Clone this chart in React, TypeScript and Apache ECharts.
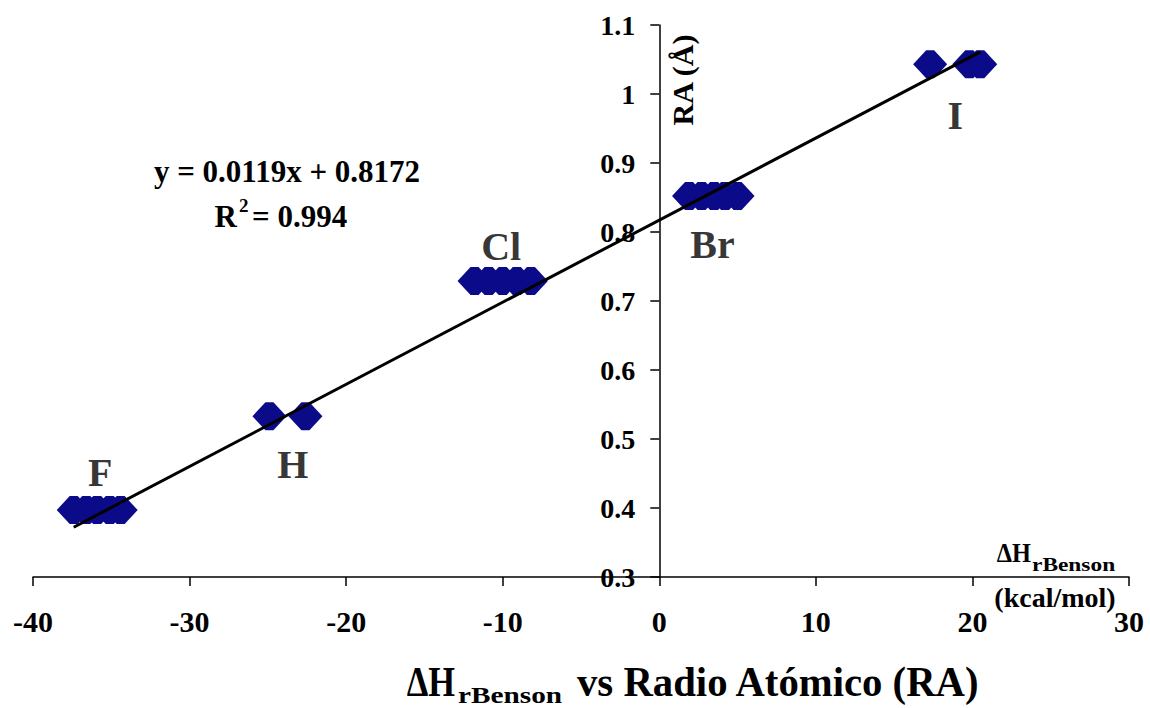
import React, { useEffect, useRef } from "react";
import * as echarts from "echarts";

const xTicks = [-40, -30, -20, -10, 0, 10, 20, 30];
const yTicks = [0.3, 0.4, 0.5, 0.6, 0.7, 0.8, 0.9, 1.0, 1.1];

const fX = [-37.4, -36.6, -35.9, -35.1, -34.4];
const fY = [0.397, 0.397, 0.397, 0.397, 0.397];
const hX = [-24.9, -22.6];
const hY = [0.533, 0.533];
const clX = [-11.8, -10.9, -10.0, -9.1, -8.2];
const clY = [0.729, 0.729, 0.729, 0.729, 0.729];
const brX = [1.9, 2.7, 3.5, 4.2, 5.0];
const brY = [0.852, 0.852, 0.852, 0.852, 0.852];
const iX = [17.3, 19.8, 20.5];
const iY = [1.043, 1.043, 1.043];

const slope = 0.0119;
const intercept = 0.8172;

const labelNames = ["F", "H", "Cl", "Br", "I"];
const labelX = [-35.7, -23.4, -10.1, 3.4, 18.9];
const labelY = [0.451, 0.463, 0.779, 0.782, 0.969];

const FAM = "Liberation Serif";
const GRID_LEFT = 33;
const GRID_RIGHT = 21;
const CHART_W = 1150;
const MARKER = "path://M0,14 L13,0 L21,0 L34,14 L21,28 L13,28 Z";

function txt(text: string, x: number, y: number, size: number, align: string, extra: any = {}) {
  return {
    type: "text",
    x,
    y,
    ...extra,
    style: {
      text,
      fontFamily: FAM,
      fontSize: size,
      fontWeight: "bold",
      fill: "#000",
      align,
      verticalAlign: "middle",
    },
  };
}

export default function App() {
  const ref = useRef<HTMLDivElement>(null);
  useEffect(() => {
    if (!ref.current) return;
    const chart = echarts.init(ref.current, undefined, { renderer: "svg" });
    const allX = [...fX, ...hX, ...clX, ...brX, ...iX];
    const allY = [...fY, ...hY, ...clY, ...brY, ...iY];
    const pts = allX.map((x, i) => [x, allY[i]]);
    const xmin = Math.min(...allX);
    const xmax = Math.max(...allX);
    const trend = [
      [xmin, slope * xmin + intercept],
      [xmax, slope * xmax + intercept],
    ];
    const labels = labelNames.map((n, i) => ({ name: n, value: [labelX[i], labelY[i]] }));

    const xMin = xTicks[0];
    const xMax = xTicks[xTicks.length - 1];
    const plotW = CHART_W - GRID_LEFT - GRID_RIGHT;
    const yAxisOffset = -((0 - xMin) / (xMax - xMin)) * plotW;

    chart.setOption({
      animation: false,
      backgroundColor: "#ffffff",
      grid: { left: GRID_LEFT, right: GRID_RIGHT, top: 25, bottom: 131, containLabel: false },
      xAxis: {
        type: "value",
        min: xMin,
        max: xMax,
        interval: 10,
        axisLine: { show: true, onZero: false, lineStyle: { color: "#000", width: 1.5 } },
        axisTick: { show: true, length: 9, lineStyle: { color: "#000", width: 1.5 } },
        axisLabel: {
          margin: 29,
          fontSize: 30,
          fontWeight: "bold",
          color: "#000",
          fontFamily: FAM,
          formatter: (v: number) => String(v),
        },
        splitLine: { show: false },
      },
      yAxis: {
        type: "value",
        position: "left",
        offset: yAxisOffset,
        min: yTicks[0],
        max: yTicks[yTicks.length - 1],
        interval: 0.1,
        axisLine: { show: true, onZero: false, lineStyle: { color: "#000", width: 1.5 } },
        axisTick: { show: true, length: 9, lineStyle: { color: "#000", width: 1.5 } },
        axisLabel: {
          margin: 24,
          fontSize: 28,
          fontWeight: "bold",
          color: "#000",
          fontFamily: FAM,
          formatter: (v: number) => {
            const r = Math.round(v * 10) / 10;
            return r === 1 ? "1" : String(r);
          },
        },
        splitLine: { show: false },
      },
      series: [
        {
          type: "scatter",
          data: pts,
          symbol: MARKER,
          symbolSize: [34, 28],
          itemStyle: { color: "#0b0b8a", opacity: 1 },
          z: 2,
        },
        {
          type: "line",
          data: trend,
          symbol: "none",
          lineStyle: { color: "#000", width: 3 },
          z: 3,
        },
        {
          type: "scatter",
          data: labels,
          symbolSize: 0,
          label: {
            show: true,
            position: "inside",
            formatter: (p: any) => p.name,
            fontSize: 40,
            fontWeight: "bold",
            color: "#000",
            textBorderWidth: 0,
            fontFamily: FAM,
          },
          z: 4,
        },
      ],
      graphic: [
        txt("y = 0.0119x + 0.8172", 287, 171, 31, "center"),
        txt("R", 237, 216, 31, "right"),
        txt("2", 239, 205, 19, "left"),
        txt("= 0.994", 252, 216, 31, "left"),
        txt("RA (Å)", 682, 80, 30, "center", { rotation: Math.PI / 2 }),
        txt("ΔH", 1031, 553, 27, "right", { scaleX: 0.9 }),
        txt("rBenson", 1032, 565, 18, "left", { scaleX: 1.3 }),
        txt("(kcal/mol)", 1055, 597, 28, "center"),
        txt("ΔH", 455, 682, 42, "right", { scaleX: 0.82 }),
        txt("rBenson", 458, 695, 24, "left", { scaleX: 1.22 }),
        txt("vs Radio Atómico (RA)", 577, 682, 42, "left", { scaleX: 0.97 }),
      ],
    });
    return () => chart.dispose();
  }, []);
  return <div ref={ref} style={{ width: 1150, height: 708, position: "absolute", left: 0, top: 0 }} />;
}
